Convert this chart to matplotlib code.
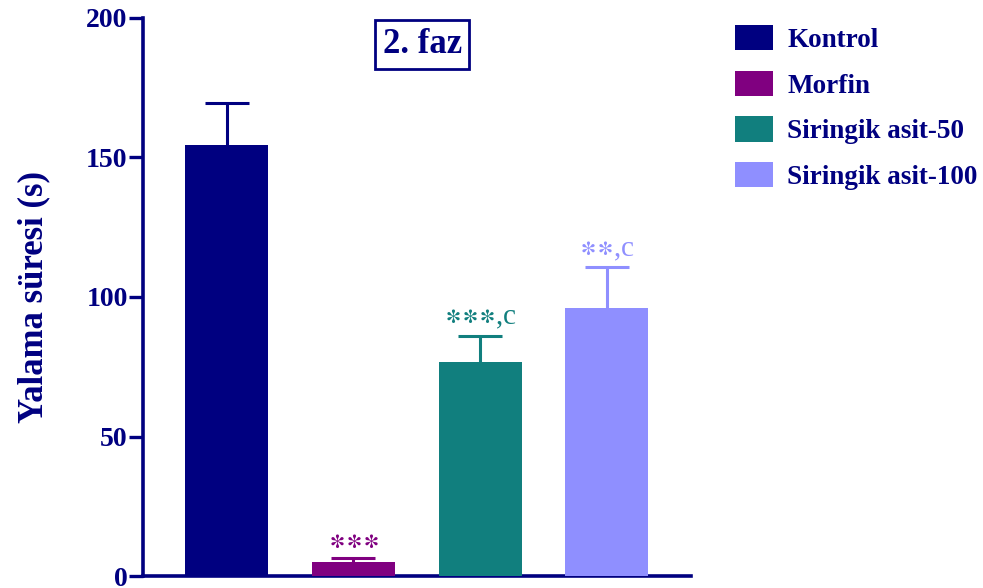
import numpy as np
import matplotlib.pyplot as plt

# Licking time per group (2nd phase), mean and SEM
groups = ['Kontrol', 'Morfin', 'Siringik asit-50', 'Siringik asit-100']
means = [154.5, 5.0, 76.7, 96.0]
sems = [15.0, 1.5, 9.5, 14.8]
stars = ['', '***', '***', '**']
letters = ['', '', 'c', 'c']
colors = ['#000080', '#800080', '#117f7e', '#8f8fff']
navy = '#000080'

plt.rcParams['font.family'] = ['Liberation Serif', 'DejaVu Serif']
plt.rcParams['font.weight'] = 'bold'
plt.rcParams['mathtext.fontset'] = 'stix'


def sig_label(s, c):
    # asterisks on the math axis, then ",c" as plain text
    txt = '$' + r'{\ast}' * len(s) + '$'
    if c:
        txt += ',' + c
    return txt


fig = plt.figure(figsize=(9.83, 5.88), dpi=100)
ax = fig.add_axes([0.1455, 0.0204, 0.557, 0.949])

x = np.arange(len(groups))
bars = ax.bar(x, means, width=0.655, color=colors, zorder=3, label=groups)

# upper SEM whiskers only
tops = np.array(means) + np.array(sems)
ax.vlines(x, means, tops, colors=colors, linewidth=2.2, zorder=2)
ax.hlines(tops, x - 0.174, x + 0.174, colors=colors, linewidth=2.2, zorder=2)
for i in range(len(groups)):
    if stars[i]:
        ax.text(x[i], tops[i] + 1.5, sig_label(stars[i], letters[i]),
                color=colors[i], ha='center', va='bottom', fontsize=21,
                fontweight='normal')

ax.set_xlim(-0.66, 3.66)
ax.set_ylim(0, 200)
ax.set_yticks([0, 50, 100, 150, 200])
ax.set_xticks([])
for s in ['top', 'right']:
    ax.spines[s].set_visible(False)
for s in ['left', 'bottom']:
    ax.spines[s].set_color(navy)
    ax.spines[s].set_linewidth(2.6)
ax.tick_params(axis='y', colors=navy, length=10, width=2.4, labelsize=20, pad=1)
for lab in ax.get_yticklabels():
    lab.set_fontweight('bold')
ax.set_ylabel('Yalama süresi (s)', color=navy, fontsize=25, fontweight='bold',
              labelpad=26)

ax.text(0.51, 0.9525, '2. faz', transform=ax.transAxes, ha='center', va='center',
        fontsize=25, fontweight='bold', color=navy,
        bbox=dict(boxstyle='square,pad=0.22', facecolor='white',
                  edgecolor=navy, linewidth=2))

leg = ax.legend(handles=list(bars), labels=groups, loc='upper left',
                bbox_to_anchor=(1.082, 0.9875), frameon=False, fontsize=19.5,
                handlelength=1.4, handleheight=1.07, handletextpad=0.52,
                labelspacing=0.65, borderpad=0, borderaxespad=0)
for t in leg.get_texts():
    t.set_color(navy)
    t.set_fontweight('bold')

fig.savefig('out.png', dpi=100)
